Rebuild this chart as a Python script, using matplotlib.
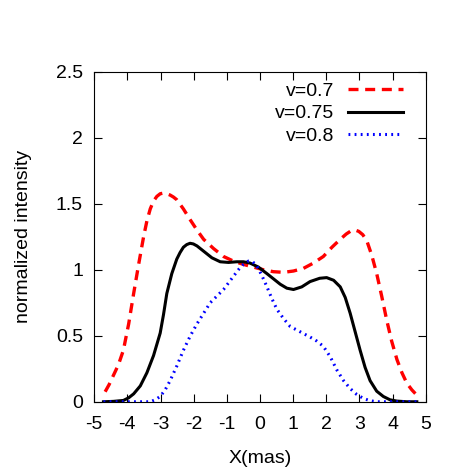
import matplotlib
matplotlib.use("Agg")
import matplotlib.pyplot as plt

plt.rcParams["font.family"] = ["Liberation Sans", "DejaVu Sans"]
plt.rcParams["axes.unicode_minus"] = False

x_red = [-4.67, -4.55, -4.42, -4.27, -4.12, -3.96, -3.81, -3.66, -3.51, -3.41, -3.31, -3.21,
         -3.11, -3.01, -2.91, -2.81, -2.71, -2.61, -2.51, -2.31, -2.11, -1.90, -1.70, -1.40,
         -1.10, -0.80, -0.50, -0.20, 0.10, 0.40, 0.71, 1.01, 1.31, 1.61, 1.91, 2.17,
         2.42, 2.60, 2.75, 2.87, 2.98, 3.10, 3.22, 3.37, 3.52, 3.67, 3.82, 3.97,
         4.13, 4.28, 4.43, 4.58, 4.73]
y_red = [0.076, 0.13, 0.20, 0.28, 0.39, 0.59, 0.82, 1.04, 1.25, 1.37, 1.46, 1.52,
         1.555, 1.575, 1.58, 1.575, 1.565, 1.55, 1.53, 1.46, 1.38, 1.30, 1.23, 1.16,
         1.10, 1.065, 1.04, 1.02, 1.00, 0.985, 0.98, 0.99, 1.01, 1.05, 1.10, 1.17,
         1.23, 1.27, 1.295, 1.30, 1.29, 1.265, 1.22, 1.11, 0.97, 0.80, 0.62, 0.46,
         0.32, 0.22, 0.14, 0.09, 0.05]

x_black = [-4.72, -4.42, -4.12, -3.96, -3.81, -3.61, -3.41, -3.21, -3.01, -2.91, -2.81, -2.66,
           -2.51, -2.41, -2.31, -2.21, -2.11, -2.01, -1.90, -1.70, -1.45, -1.20, -0.95, -0.70,
           -0.50, -0.30, -0.05, 0.21, 0.41, 0.61, 0.81, 1.01, 1.26, 1.51, 1.80, 2.01,
           2.22, 2.42, 2.57, 2.72, 2.87, 3.02, 3.17, 3.32, 3.52, 3.72, 3.92, 4.13, 4.43, 4.73]
y_black = [0.0, 0.003, 0.01, 0.03, 0.06, 0.12, 0.22, 0.35, 0.52, 0.66, 0.82, 0.97,
           1.08, 1.13, 1.17, 1.19, 1.20, 1.195, 1.18, 1.14, 1.09, 1.06, 1.055, 1.06,
           1.06, 1.05, 1.02, 0.97, 0.93, 0.89, 0.86, 0.85, 0.87, 0.91, 0.935, 0.94,
           0.92, 0.87, 0.79, 0.67, 0.53, 0.39, 0.26, 0.16, 0.08, 0.04, 0.015, 0.005, 0.0, 0.0]

x_blue = [-4.72, -3.60, -3.31, -3.16, -3.01, -2.86, -2.71, -2.51, -2.31, -2.10, -1.90, -1.70,
          -1.50, -1.30, -1.10, -0.95, -0.80, -0.65, -0.50, -0.35, -0.22, -0.10, 0.05,
          0.21, 0.36, 0.51, 0.71, 0.91, 1.21, 1.51, 1.71, 1.91, 2.12, 2.32, 2.52, 2.72,
          2.92, 3.12, 3.32, 3.52, 4.73]
y_blue = [0.0, 0.0, 0.0, 0.015, 0.04, 0.09, 0.16, 0.27, 0.39, 0.50, 0.59, 0.67,
          0.75, 0.80, 0.85, 0.90, 0.95, 1.00, 1.04, 1.065, 1.06, 1.03, 0.96,
          0.87, 0.78, 0.70, 0.63, 0.57, 0.53, 0.49, 0.46, 0.42, 0.34, 0.24, 0.16, 0.10,
          0.055, 0.025, 0.008, 0.0, 0.0]

x_ticks = [-5, -4, -3, -2, -1, 0, 1, 2, 3, 4, 5]
y_ticks = [0, 0.5, 1, 1.5, 2, 2.5]
y_ticklabels = ["0", "0.5", "1", "1.5", "2", "2.5"]

fig = plt.figure(figsize=(4.71, 4.71), dpi=100)
ax = fig.add_axes([0.2, 0.147, 0.704, 0.701])

ax.plot(x_red, y_red, color="red", lw=2.4, linestyle=(0, (3.0, 2.0)), label="v=0.7")
ax.plot(x_black, y_black, color="black", lw=2.2, label="v=0.75")
ax.plot(x_blue, y_blue, color="blue", lw=2.2, linestyle=(0, (0.6, 1.4)), label="v=0.8")

ax.set_xlim(-5, 5)
ax.set_ylim(0, 2.5)
ax.set_xticks(x_ticks)
ax.set_yticks(y_ticks)
ax.set_yticklabels(y_ticklabels)
ax.tick_params(direction="in", top=True, right=True, length=6, labelsize=14)
ax.tick_params(axis="x", pad=10)
ax.tick_params(axis="y", pad=8)
ax.set_xlabel("X(mas)", fontsize=14)
ax.set_ylabel("normalized intensity", fontsize=14)
ax.xaxis.set_label_coords(0.5, -0.147)
ax.yaxis.set_label_coords(-0.187, 0.5)

ax.legend(loc="upper right", frameon=False, markerfirst=False, fontsize=14,
          handlelength=2.83, labelspacing=0.25, borderaxespad=0.0, handletextpad=0.7,
          bbox_to_anchor=(0.955, 0.991))

fig.savefig("out.png", dpi=100)
plt.close(fig)
